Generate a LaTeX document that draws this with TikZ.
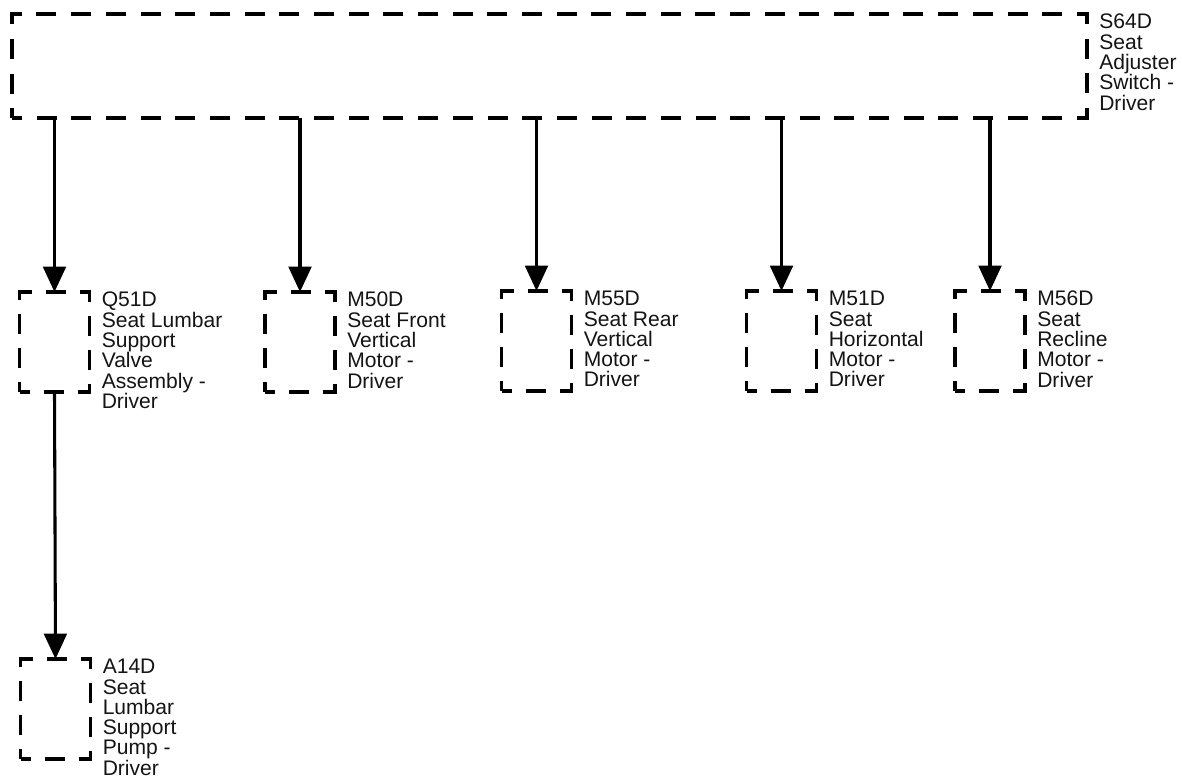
\documentclass[tikz,border=0pt]{standalone}
\usepackage{fontspec}
\setmainfont{Liberation Sans}
\usetikzlibrary{arrows.meta, positioning}
\definecolor{lineColor}{RGB}{0,0,0}
\definecolor{textColor}{RGB}{20,20,20}

\begin{document}
\begin{tikzpicture}[
    x=0.75pt, y=-0.75pt,
    part/.style={draw=lineColor, line width=2.8pt, minimum width=52.5pt, minimum height=75pt, inner sep=0pt, outer sep=0pt, dash pattern=on 15pt off 10.5pt, dash phase=7.5pt},
    switch/.style={part, minimum width=806.25pt, minimum height=78pt, dash pattern=on 15pt off 11.01pt},
    part_text/.style={text=textColor, align=left, inner sep=0pt, anchor=north west, font=\fontsize{15.8}{15.2}\selectfont},
    flow/.style={-{Triangle[width=17pt, length=19pt]}, line width=2.3pt, draw=lineColor},
    every node/.style={text=textColor}
]

% Page frame
\useasboundingbox (0,0) rectangle (1182,780);

% Seat adjuster switch across the top
\node[switch] (s64d) at (549.5,66) {};
\node[part_text] at ([xshift=9pt, yshift=0pt]s64d.north east) {S64D\\Seat\\Adjuster\\Switch -\\Driver};

% Row of motors and valve
\node[part] (q51d) at (54.5,342) {};
\node[part_text] at ([xshift=9pt, yshift=0pt]q51d.north east) {Q51D\\Seat Lumbar\\Support\\Valve\\Assembly -\\Driver};

\node[part] (m50d) at (300,342) {};
\node[part_text] at ([xshift=9pt, yshift=0pt]m50d.north east) {M50D\\Seat Front\\Vertical\\Motor -\\Driver};

\node[part] (m55d) at (536.5,341) {};
\node[part_text] at ([xshift=9pt, yshift=0pt]m55d.north east) {M55D\\Seat Rear\\Vertical\\Motor -\\Driver};

\node[part] (m51d) at (781.5,341) {};
\node[part_text] at ([xshift=9pt, yshift=0pt]m51d.north east) {M51D\\Seat\\Horizontal\\Motor -\\Driver};

\node[part] (m56d) at (990,341) {};
\node[part_text] at ([xshift=9pt, yshift=0pt]m56d.north east) {M56D\\Seat\\Recline\\Motor -\\Driver};

% Lumbar pump below the valve
\node[part] (a14d) at (55.5,709) {};
\node[part_text] at ([xshift=9pt, yshift=0pt]a14d.north east) {A14D\\Seat\\Lumbar\\Support\\Pump -\\Driver};

% Connections
\foreach \n in {q51d,m50d,m55d,m51d,m56d} {
    \draw[flow] (s64d.south -| \n.north) -- (\n.north);
}

\draw[flow] (q51d.south) -- (a14d.north);

\end{tikzpicture}
\end{document}
